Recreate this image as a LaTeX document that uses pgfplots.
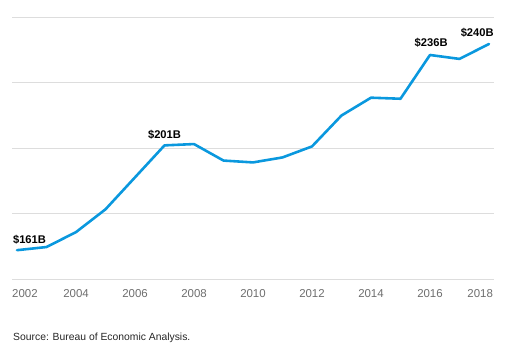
\documentclass[border=0pt]{standalone}
\usepackage{pgfplots}
\pgfplotsset{compat=1.18}
\usepackage{fontspec}
\setmainfont{Liberation Sans}
\definecolor{lineblue}{HTML}{0A98DE}
\definecolor{gridgray}{HTML}{DDDDDD}
\definecolor{tickgray}{HTML}{6E6E6E}
\begin{document}
\begin{tikzpicture}
\useasboundingbox (0,0) rectangle (524bp,351bp);
\begin{axis}[
  at={(12bp,72bp)}, anchor=south west,
  scale only axis, width=482bp, height=262bp,
  xmin=2001.83, xmax=2018.17,
  ymin=150, ymax=250,
  clip=false,
  axis line style={draw=none},
  ytick={150,175,200,225,250},
  yticklabels={},
  ymajorgrids, major grid style={gridgray, line width=0.8pt},
  major tick length=0pt,
  xtick={2002.27,2004,2006,2008,2010,2012,2014,2016,2017.7},
  xticklabels={2002,2004,2006,2008,2010,2012,2014,2016,2018},
  xticklabel style={anchor=center, yshift=-15bp, font=\fontsize{11.5}{13}\selectfont, text=tickgray},
  /pgf/number format/assume math mode=true,
]
\addplot[lineblue, line width=2.6pt, line join=round, line cap=round] coordinates {
(2002,161.0) (2003,162.2) (2004,167.9) (2005,176.6) (2006,188.8) (2007,201.0)
(2008,201.5) (2009,195.2) (2010,194.5) (2011,196.4) (2012,200.6) (2013,212.4)
(2014,219.2) (2015,218.8) (2016,235.5) (2017,234.0) (2018,239.7)
};
\node[anchor=west, inner sep=0pt, font=\fontsize{11.2}{13}\selectfont\bfseries] at (axis cs:2001.86,164.8) {\$161B};
\node[anchor=center, inner sep=0pt, font=\fontsize{11.2}{13}\selectfont\bfseries] at (axis cs:2007,205.1) {\$201B};
\node[anchor=center, inner sep=0pt, font=\fontsize{11.2}{13}\selectfont\bfseries] at (axis cs:2016.04,240.1) {\$236B};
\node[anchor=center, inner sep=0pt, font=\fontsize{11.2}{13}\selectfont\bfseries] at (axis cs:2017.6,243.9) {\$240B};
\end{axis}
\node[anchor=west, inner sep=0pt, font=\fontsize{10.4}{12}\selectfont, text=black!85] at (13bp,13bp) {Source: Bureau of Economic Analysis.};
\end{tikzpicture}
\end{document}
